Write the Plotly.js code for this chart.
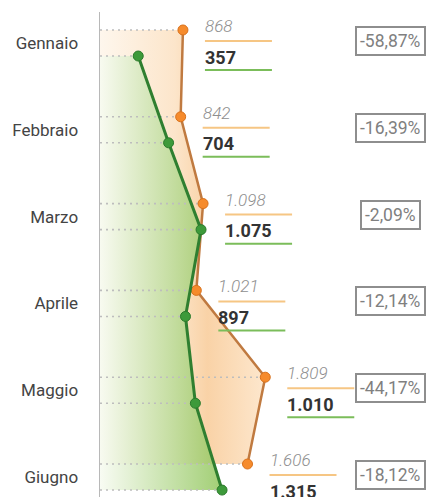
<!DOCTYPE html>
<html>
<head>
<meta charset="utf-8">
<script src="https://cdn.plot.ly/plotly-3.0.1.min.js"></script>
<style>
  html, body { margin: 0; padding: 0; background: #fff; }
  #plot { width: 426px; height: 497px; }
</style>
</head>
<body>
<div id="plot"></div>
<script>
// months, previous year (orange) and current year (green)
var months = ["Gennaio", "Febbraio", "Marzo", "Aprile", "Maggio", "Giugno"];
var prevYear = [868, 842, 1098, 1021, 1809, 1606];
var currYear = [357, 704, 1075, 897, 1010, 1315];

var xMin = -80;
var off = 0.15;

var prevY = months.map((m, i) => i - off);
var currY = months.map((m, i) => i + off);

function fmt(n) {
    return String(n).replace(/\B(?=(\d{3})+(?!\d))/g, ".");
}
function pct(p, c) {
    return ((c - p) / p * 100).toFixed(2).replace(".", ",") + "%";
}

// fill polygons from the axis to each line
var orangeFill = {
    x: [xMin].concat(prevYear, [xMin]),
    y: [prevY[0]].concat(prevY, [prevY[prevY.length - 1]]),
    mode: "none",
    fill: "toself",
    fillgradient: {
        type: "horizontal",
        start: xMin,
        stop: Math.max(...prevYear),
        colorscale: [[0, "rgba(254,246,236,0.95)"], [0.45, "rgba(252,228,200,0.95)"], [0.65, "rgba(249,208,162,0.95)"], [1, "rgba(253,230,203,0.95)"]]
    },
    hoverinfo: "skip",
    showlegend: false
};

var greenFill = {
    x: [xMin].concat(currYear, [xMin]),
    y: [currY[0]].concat(currY, [currY[currY.length - 1]]),
    mode: "none",
    fill: "toself",
    fillgradient: {
        type: "horizontal",
        start: xMin,
        stop: Math.max(...currYear),
        colorscale: [[0, "rgba(247,251,241,0.85)"], [1, "rgba(145,198,92,0.85)"]]
    },
    hoverinfo: "skip",
    showlegend: false
};

// dotted drop lines from the axis to every point
var dx = [], dy = [];
months.forEach((m, i) => {
    dx.push(xMin, prevYear[i], null, xMin, currYear[i], null);
    dy.push(prevY[i], prevY[i], null, currY[i], currY[i], null);
});
var dots = {
    x: dx,
    y: dy,
    mode: "lines",
    line: { color: "#bdbdbd", width: 1.6, dash: "2px,4px" },
    hoverinfo: "skip",
    showlegend: false
};

var orangeLine = {
    x: prevYear,
    y: prevY,
    mode: "lines+markers",
    line: { color: "#c07a40", width: 2.5 },
    marker: { color: "#f68b2c", size: 10, line: { color: "#d8711c", width: 1 } },
    showlegend: false
};

var greenLine = {
    x: currYear,
    y: currY,
    mode: "lines+markers",
    line: { color: "#2f7f30", width: 3 },
    marker: { color: "#3d9a3a", size: 10, line: { color: "#2b7a2b", width: 1 } },
    showlegend: false
};

var annotations = [];
var shapes = [];
months.forEach((m, i) => {
    annotations.push({
        x: prevYear[i], y: prevY[i], xref: "x", yref: "y",
        text: "<i>" + fmt(prevYear[i]) + "</i>",
        showarrow: false, xanchor: "left", xshift: 20, yshift: 4,
        font: { family: "Roboto", size: 17, color: "#8f8f8f", weight: 300 }
    });
    annotations.push({
        x: prevYear[i], y: currY[i], xref: "x", yref: "y",
        text: "<b>" + fmt(currYear[i]) + "</b>",
        showarrow: false, xanchor: "left", xshift: 20, yshift: -1,
        font: { family: "Roboto", size: 18, color: "#333" }
    });
    annotations.push({
        x: 0.892, y: i, xref: "paper", yref: "y",
        text: pct(prevYear[i], currYear[i]),
        showarrow: false, xanchor: "center", yshift: 2,
        bordercolor: "#8e8e8e", borderwidth: 2, borderpad: 3, bgcolor: "#fff",
        font: { family: "Roboto", size: 17.5, color: "#808080" }
    });
    shapes.push({
        type: "line", xref: "x", yref: "y",
        xsizemode: "pixel", xanchor: prevYear[i], x0: 22, x1: 89,
        ysizemode: "pixel", yanchor: prevY[i], y0: -11, y1: -11,
        line: { color: "#f6c684", width: 2 }
    });
    shapes.push({
        type: "line", xref: "x", yref: "y",
        xsizemode: "pixel", xanchor: prevYear[i], x0: 22, x1: 89,
        ysizemode: "pixel", yanchor: currY[i], y0: -14, y1: -14,
        line: { color: "#7bbd5a", width: 2 }
    });
});

var layout = {
    width: 426,
    height: 497,
    margin: { l: 100, r: 0, t: 12, b: 0 },
    paper_bgcolor: "#fff",
    plot_bgcolor: "#fff",
    font: { family: "Roboto" },
    xaxis: { range: [xMin, 3646], visible: false, fixedrange: true },
    yaxis: {
        range: [5.23, -0.357],
        tickvals: months.map((m, i) => i),
        ticktext: months,
        showgrid: false,
        zeroline: false,
        showline: true,
        linecolor: "#b8b8b8",
        linewidth: 1.5,
        ticks: "",
        ticklabelstandoff: 17,
        tickfont: { family: "Roboto", size: 17, color: "#444" },
        fixedrange: true
    },
    annotations: annotations,
    shapes: shapes,
    showlegend: false
};

Plotly.newPlot("plot", [orangeFill, greenFill, dots, orangeLine, greenLine], layout, { displayModeBar: false, staticPlot: true });
</script>
</body>
</html>
